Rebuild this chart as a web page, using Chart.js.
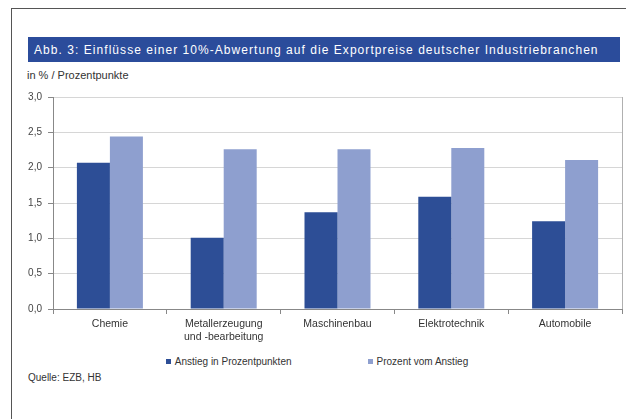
<!DOCTYPE html>
<html>
<head>
<meta charset="utf-8">
<script src="https://cdn.jsdelivr.net/npm/chart.js@4/dist/chart.umd.min.js"></script>
<style>
  html, body { margin: 0; padding: 0; background: #fff; }
  body { width: 626px; height: 419px; position: relative; overflow: hidden; font-family: "Liberation Sans", Arial, sans-serif; }
  #frame { position: absolute; left: 11px; top: 8px; width: 640px; height: 430px; border-top: 1px solid #555; border-left: 1px solid #555; }
  #titleBar { position: absolute; left: 28px; top: 37px; width: 592px; height: 25px; background: #2b4c9b; color: #fff; font-size: 12px; letter-spacing: 1.05px; line-height: 26px; padding-left: 6px; box-sizing: border-box; white-space: nowrap; overflow: hidden; }
  #unit { position: absolute; left: 27px; top: 69px; font-size: 11px; color: #333; }
  #chartBox { position: absolute; left: 11px; top: 85px; width: 615px; height: 260px; }
  #legend { position: absolute; left: 0; top: 356px; width: 626px; text-align: center; font-size: 10px; color: #333; padding-left: 8px; box-sizing: border-box; }
  #legend span.item { display: inline-block; margin: 0 38px; }
  #legend span.box { display: inline-block; width: 5px; height: 5px; margin-right: 4px; vertical-align: 1px; }
  #source { position: absolute; left: 28px; top: 372px; font-size: 10px; color: #333; }
</style>
</head>
<body>
<div id="frame"></div>
<div id="titleBar">Abb. 3: Einflüsse einer 10%-Abwertung auf die Exportpreise deutscher Industriebranchen</div>
<div id="unit">in % / Prozentpunkte</div>
<div id="chartBox"><canvas id="myChart" width="615" height="260"></canvas></div>
<div id="legend"></div>
<div id="source">Quelle: EZB, HB</div>
<script>
var branchen = ["Chemie", ["Metallerzeugung", "und -bearbeitung"], "Maschinenbau", "Elektrotechnik", "Automobile"];
var anstiegProzentpunkte = [2.07, 1.01, 1.37, 1.59, 1.24];
var prozentVomAnstieg = [2.44, 2.26, 2.26, 2.28, 2.11];
var serienNamen = ["Anstieg in Prozentpunkten", "Prozent vom Anstieg"];
var serienFarben = ["#2d4e96", "#8e9fcf"];

// rahmen rechts um die zeichenflaeche
var plotRahmen = {
  id: "plotRahmen",
  afterDraw: function (chart) {
    var a = chart.chartArea;
    var c = chart.ctx;
    c.save();
    c.strokeStyle = "#b0b0b0";
    c.lineWidth = 1;
    c.beginPath();
    c.moveTo(Math.round(a.right) + 0.5, a.top);
    c.lineTo(Math.round(a.right) + 0.5, a.bottom);
    c.stroke();
    c.restore();
  }
};

var ctx = document.getElementById("myChart").getContext("2d");
var myChart = new Chart(ctx, {
  type: "bar",
  data: {
    labels: branchen,
    datasets: [
      { label: serienNamen[0], data: anstiegProzentpunkte, backgroundColor: serienFarben[0] },
      { label: serienNamen[1], data: prozentVomAnstieg, backgroundColor: serienFarben[1] }
    ]
  },
  options: {
    responsive: false,
    animation: false,
    layout: { padding: { top: 11, right: 4, left: 0, bottom: 0 } },
    datasets: { bar: { categoryPercentage: 0.58, barPercentage: 1.0 } },
    plugins: {
      legend: { display: false },
      tooltip: { enabled: false }
    },
    scales: {
      x: {
        grid: { drawOnChartArea: false, drawTicks: true, tickLength: 5, color: "#888", offset: true },
        border: { color: "#888" },
        ticks: { color: "#333", font: { family: "Liberation Sans", size: 10.5 }, padding: 4, maxRotation: 0 },
        afterFit: function (scale) { scale.height = 36; }
      },
      y: {
        min: 0,
        max: 3,
        ticks: {
          stepSize: 0.5,
          color: "#444",
          padding: 6,
          font: { family: "Liberation Sans", size: 10 },
          callback: function (v) { return v.toFixed(1).replace(".", ","); }
        },
        grid: { color: "#d6d6d6", tickColor: "#888", tickLength: 5 },
        border: { color: "#888" },
        afterFit: function (scale) { scale.width = 42; }
      }
    }
  },
  plugins: [plotRahmen]
});

// legende aus den datensaetzen
var legendEl = document.getElementById("legend");
myChart.data.datasets.forEach(function (ds) {
  var item = document.createElement("span");
  item.className = "item";
  var box = document.createElement("span");
  box.className = "box";
  box.style.background = ds.backgroundColor;
  item.appendChild(box);
  item.appendChild(document.createTextNode(ds.label));
  legendEl.appendChild(item);
});
</script>
</body>
</html>
